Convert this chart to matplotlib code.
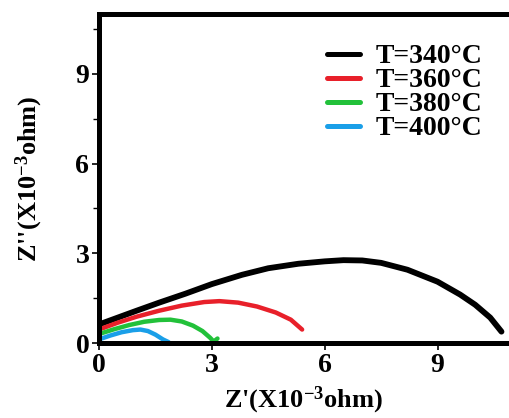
import matplotlib
matplotlib.use("Agg")
import matplotlib.pyplot as plt
from matplotlib.ticker import MultipleLocator

plt.rcParams['font.family'] = ['Liberation Serif', 'DejaVu Serif']
plt.rcParams['font.weight'] = 'bold'
plt.rcParams['mathtext.fontset'] = 'custom'
plt.rcParams['mathtext.rm'] = 'Liberation Serif:bold'
plt.rcParams['mathtext.default'] = 'rm'

# Z' and Z'' (x10^-3 ohm)
x340 = [0.0, 0.5, 1.0, 1.6, 2.3, 3.0, 3.8, 4.5, 5.3, 6.0, 6.5, 7.0, 7.5, 8.2, 9.0, 9.6, 10.0, 10.4, 10.7]
y340 = [0.62, 0.85, 1.08, 1.35, 1.65, 1.97, 2.28, 2.50, 2.65, 2.73, 2.77, 2.76, 2.68, 2.45, 2.05, 1.62, 1.28, 0.85, 0.38]

x360 = [0.0, 0.5, 1.0, 1.6, 2.2, 2.8, 3.2, 3.7, 4.2, 4.7, 5.1, 5.4]
y360 = [0.45, 0.68, 0.88, 1.08, 1.25, 1.37, 1.40, 1.35, 1.22, 1.02, 0.78, 0.45]

x380 = [0.0, 0.4, 0.8, 1.2, 1.6, 1.9, 2.2, 2.5, 2.75, 2.95, 3.05, 3.15]
y380 = [0.30, 0.46, 0.60, 0.71, 0.77, 0.78, 0.72, 0.58, 0.40, 0.18, 0.05, 0.15]

x400 = [0.0, 0.3, 0.6, 0.9, 1.1, 1.3, 1.5, 1.7, 1.85]
y400 = [0.12, 0.25, 0.36, 0.43, 0.45, 0.40, 0.28, 0.12, 0.03]

labels = ['T=340°C', 'T=360°C', 'T=380°C', 'T=400°C']
colors = ['#000000', '#e8202a', '#22c13a', '#1a9fe8']

fig = plt.figure(figsize=(5.09, 4.18), dpi=100)
ax = fig.add_axes([0.1945, 0.1794, 0.8055, 0.7871])

series = [(x340, y340), (x360, y360), (x380, y380), (x400, y400)]
widths = [4.2, 3.2, 3.2, 3.2]
for (xs, ys), lab, c, w in zip(series, labels, colors, widths):
    ax.plot(xs, ys, color=c, lw=w, label=lab, solid_capstyle='round')

ax.set_xlim(0, 10.9)
ax.set_ylim(0, 11)
ax.xaxis.set_major_locator(MultipleLocator(3))
ax.yaxis.set_major_locator(MultipleLocator(3))
ax.yaxis.set_minor_locator(MultipleLocator(1.5))

for s in ['left', 'bottom', 'top']:
    ax.spines[s].set_linewidth(3.6)
ax.spines['right'].set_visible(False)

ax.tick_params(axis='both', which='major', direction='out', length=5, width=1.2,
               labelsize=20, pad=2)
ax.tick_params(axis='y', which='minor', direction='out', length=4, width=1.0)
ax.tick_params(axis='x', which='minor', bottom=False)

ax.set_xlabel("Z'(X10$^{-3}$ohm)", fontsize=19, fontweight='bold', labelpad=5)
ax.set_ylabel("Z''(X10$^{-3}$ohm)", fontsize=19, fontweight='bold', labelpad=22)

leg = ax.legend(loc='upper right', bbox_to_anchor=(0.975, 0.96), frameon=False,
                fontsize=20, handlelength=1.2, handletextpad=0.55,
                labelspacing=-0.05, borderaxespad=0.2)
for line in leg.get_lines():
    line.set_linewidth(3.6)

fig.savefig('out.png', dpi=100)
